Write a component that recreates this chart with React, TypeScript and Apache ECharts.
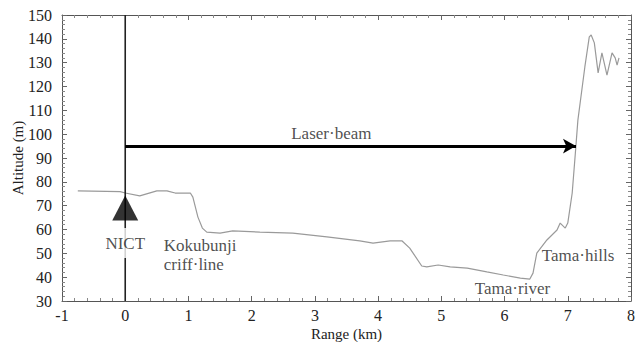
import React, { useEffect, useRef } from "react";
import * as echarts from "echarts";

// Terrain profile (range km, altitude m)
const rangeKm = [
  -0.75, -0.08, 0.0, 0.23, 0.5, 0.66, 0.79, 1.03, 1.07, 1.15, 1.22, 1.29, 1.5, 1.7, 2.13, 2.65, 3.19,
  3.71, 3.92, 4.19, 4.38, 4.5, 4.69, 4.77, 4.95, 5.14, 5.41, 5.72, 5.98, 6.25, 6.4, 6.45, 6.51, 6.67,
  6.83, 6.88, 6.96, 7.0, 7.07, 7.12, 7.16, 7.27, 7.34, 7.37, 7.42, 7.48, 7.54, 7.62, 7.7, 7.75, 7.78, 7.81,
];
const altitudeM = [
  76.2, 75.9, 75.3, 74.1, 76.2, 76.2, 75.3, 75.3, 73.6, 65.2, 60.6, 58.9, 58.5, 59.4, 58.9, 58.5, 56.9,
  55.2, 54.3, 55.2, 55.2, 52.2, 44.7, 44.3, 45.1, 44.3, 43.8, 42.2, 40.9, 39.6, 39.2, 41.7, 50.1, 55.6,
  59.8, 62.7, 60.6, 62.7, 75.3, 92.1, 105.9, 128.2, 140.8, 141.6, 138.3, 125.7, 134.1, 124.8, 134.1, 132.0, 129.0, 132.0,
];

const xTicks = { min: -1, max: 8, interval: 1 };
const yTicks = { min: 30, max: 150, interval: 10 };

// Station (NICT) and laser beam
const stationX = 0;
const stationMarkerY = 69;
const beamY = 95;
const beamEndX = 7.13;

// Annotations
const annotationTexts = ["NICT", "Kokubunji\ncriff·line", "Tama·hills", "Tama·river", "Laser·beam"];
const annotationX = [0, 0.61, 6.59, 5.53, 3.26];
const annotationY = [54.3, 49.1, 49.3, 35.4, 100.1];
const annotationAlign = ["center", "left", "left", "left", "center"];

const FONT = '"Liberation Serif", "DejaVu Serif", serif';

export default function App() {
  const ref = useRef<HTMLDivElement>(null);
  useEffect(() => {
    document.body.style.margin = "0";
    const chart = echarts.init(ref.current!, null, { renderer: "svg" });
    const axisLine = { show: true, onZero: false, lineStyle: { color: "#555", width: 1 } };
    const tick = { show: true, inside: true, length: 5, lineStyle: { color: "#666" } };
    const minor = { show: true, splitNumber: 5, length: 3, lineStyle: { color: "#888" } };
    const labelStyle = { fontFamily: FONT, fontSize: 16, color: "#222" };
    const profile = rangeKm.map((x, i) => [x, altitudeM[i]]);
    const annotations = annotationTexts.map((t, i) => ({
      value: [annotationX[i], annotationY[i]],
      label: {
        show: true,
        formatter: t,
        position: "inside",
        align: annotationAlign[i],
        verticalAlign: "middle",
        fontFamily: FONT,
        fontSize: 17,
        color: "#222",
        lineHeight: 19,
        ...(i === 0 ? { backgroundColor: "#fff", padding: [6, 3, 5, 3] } : {}),
      },
    }));
    chart.setOption({
      animation: false,
      backgroundColor: "#fff",
      textStyle: { fontFamily: FONT },
      grid: { left: 62, right: 4, top: 15, bottom: 41, outerBoundsMode: "none", containLabel: false },
      xAxis: [
        {
          type: "value",
          ...xTicks,
          axisLine,
          axisTick: tick,
          minorTick: minor,
          splitLine: { show: false },
          axisLabel: { ...labelStyle, margin: 6 },
          name: "Range (km)",
          nameLocation: "middle",
          nameGap: 25,
          nameMoveOverlap: false,
          nameTextStyle: { fontFamily: FONT, fontSize: 15, color: "#222" },
        },
        {
          type: "value",
          position: "top",
          ...xTicks,
          axisLine,
          axisTick: tick,
          minorTick: minor,
          splitLine: { show: false },
          axisLabel: { show: false },
        },
      ],
      yAxis: [
        {
          type: "value",
          ...yTicks,
          axisLine,
          axisTick: tick,
          minorTick: minor,
          splitLine: { show: false },
          axisLabel: { ...labelStyle, margin: 10 },
          name: "Altitude (m)",
          nameLocation: "middle",
          nameGap: 37,
          nameMoveOverlap: false,
          nameRotate: 90,
          nameTextStyle: { fontFamily: FONT, fontSize: 15, color: "#222" },
        },
        {
          type: "value",
          position: "right",
          ...yTicks,
          axisLine,
          axisTick: tick,
          minorTick: minor,
          splitLine: { show: false },
          axisLabel: { show: false },
        },
      ],
      series: [
        {
          type: "line",
          data: profile,
          symbol: "none",
          lineStyle: { color: "#9a9a9a", width: 1.2 },
          z: 2,
        },
        {
          type: "line",
          data: [
            [stationX, yTicks.min],
            [stationX, yTicks.max],
          ],
          symbol: "none",
          lineStyle: { color: "#222", width: 1.6 },
          z: 3,
          markLine: {
            silent: true,
            symbol: ["none", "arrow"],
            symbolSize: [11, 13],
            label: { show: false },
            lineStyle: { color: "#000", width: 3, type: "solid" },
            data: [[{ coord: [stationX, beamY] }, { coord: [beamEndX, beamY] }]],
          },
        },
        {
          type: "scatter",
          data: [[stationX, stationMarkerY]],
          symbol: "triangle",
          symbolSize: [26, 25],
          itemStyle: { color: "#000" },
          z: 4,
        },
        {
          type: "scatter",
          data: annotations,
          symbol: "circle",
          symbolSize: 1,
          itemStyle: { color: "rgba(0,0,0,0)" },
          z: 5,
        },
      ],
    });
    return () => chart.dispose();
  }, []);
  return <div ref={ref} style={{ width: 635, height: 342 }} />;
}
